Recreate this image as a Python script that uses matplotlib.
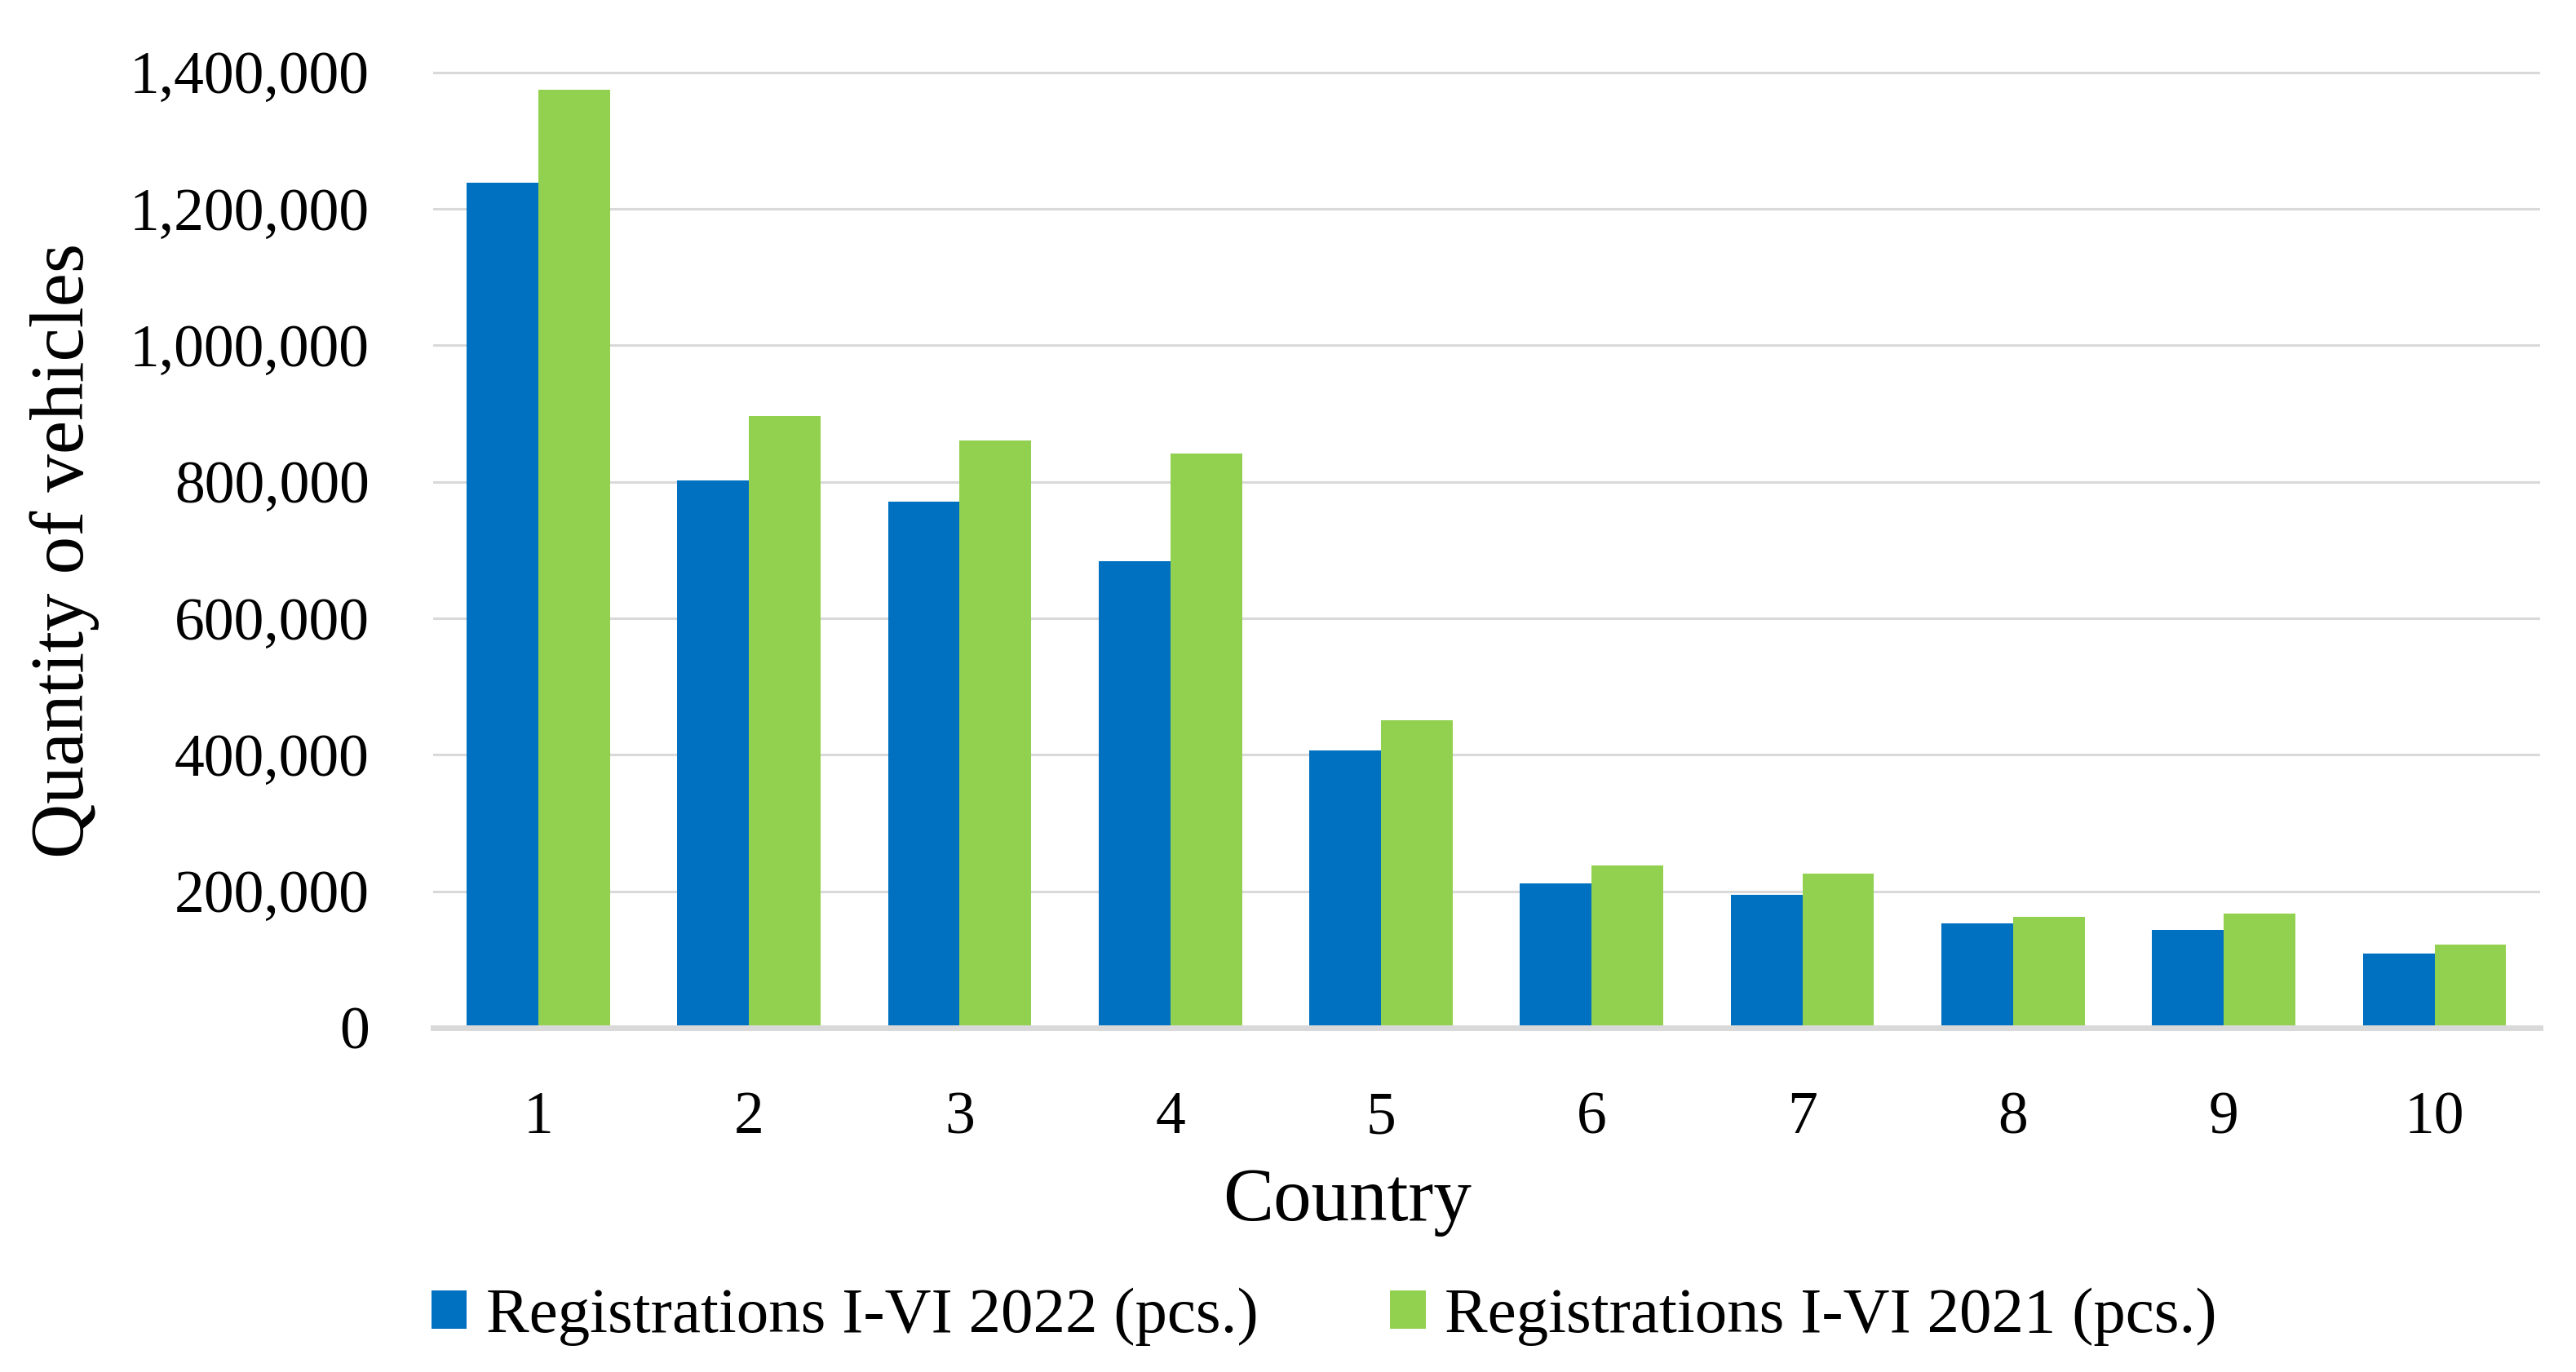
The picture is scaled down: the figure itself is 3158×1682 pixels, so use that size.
import matplotlib.pyplot as plt
from matplotlib.ticker import FuncFormatter, MultipleLocator
import numpy as np

# Data
countries = [1, 2, 3, 4, 5, 6, 7, 8, 9, 10]
reg_2022 = [1238000, 802000, 771000, 684000, 406000, 212000, 195000, 153000, 144000, 109000]
reg_2021 = [1374000, 896000, 860000, 841000, 451000, 238000, 226000, 162000, 167000, 122000]
labels = ['Registrations I-VI 2022 (pcs.)', 'Registrations I-VI 2021 (pcs.)']

plt.rcParams['font.family'] = ['Liberation Serif', 'DejaVu Serif']

fig = plt.figure(figsize=(15.79, 8.41), dpi=200)
ax = fig.add_axes([0.168, 0.2509, 0.818, 0.7014])

x = np.array(countries)
w = 0.34
ax.bar(x - w / 2, reg_2022, w, color='#0070C0', label=labels[0], zorder=2)
ax.bar(x + w / 2, reg_2021, w, color='#92D050', label=labels[1], zorder=2)

ax.set_xlim(0.5, 10.5)
ax.set_ylim(0, 1410000)
ax.set_xticks(x)
ax.yaxis.set_major_locator(MultipleLocator(200000))
ax.yaxis.set_major_formatter(FuncFormatter(lambda v, p: f'{int(v):,}'))

ax.grid(axis='y', color='#d9d9d9', linewidth=1.1, zorder=0)
ax.set_axisbelow(True)
for s in ['top', 'right', 'left']:
    ax.spines[s].set_visible(False)
ax.spines['bottom'].set_color('#d9d9d9')
ax.spines['bottom'].set_linewidth(2.5)
ax.spines['bottom'].set_zorder(3)

ax.tick_params(axis='both', length=0, labelsize=26.5)
ax.tick_params(axis='y', pad=28)
ax.tick_params(axis='x', pad=28)

ax.set_ylabel('Quantity of vehicles', fontsize=33.5, va='center')
ax.yaxis.set_label_coords(-0.1746, 0.496)
ax.set_xlabel('Country', fontsize=33.5, va='center')
ax.xaxis.set_label_coords(0.434, -0.181)

fig.legend(loc='center', bbox_to_anchor=(0.514, 0.040), ncol=2, frameon=False,
           fontsize=28.4, handlelength=0.55, handleheight=0.55, handletextpad=0.3,
           columnspacing=2.05)

fig.savefig('out.png', dpi=200)
